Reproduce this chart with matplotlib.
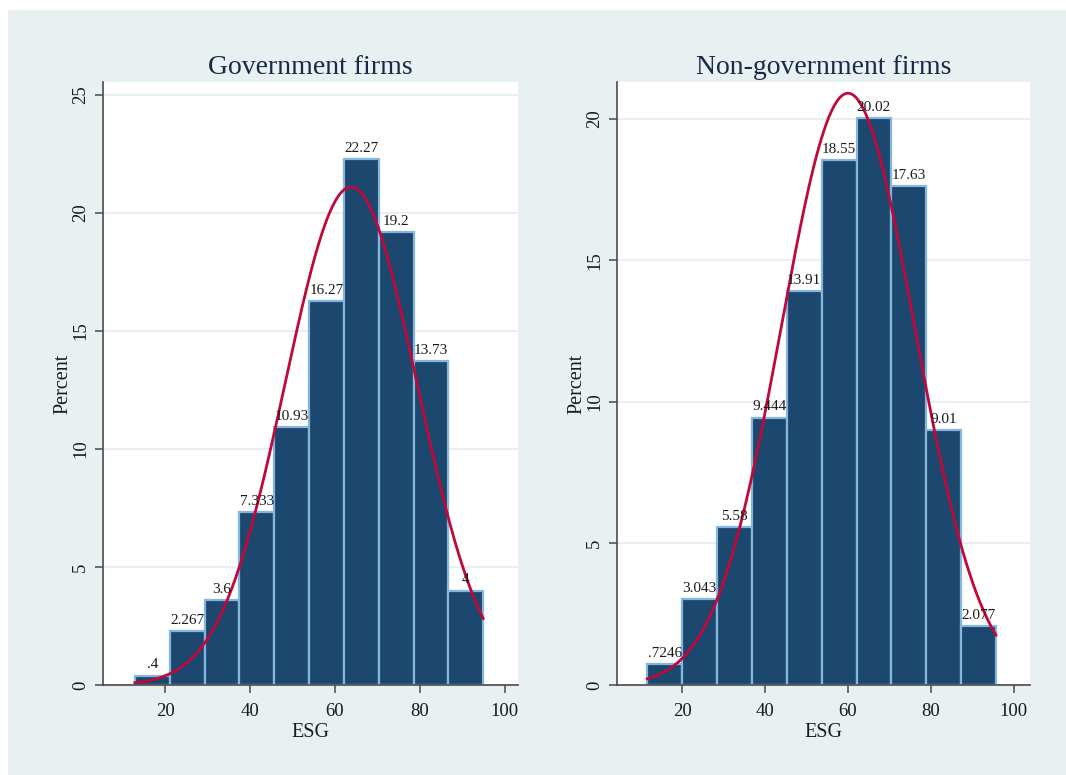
import numpy as np
import matplotlib
matplotlib.use("Agg")
import matplotlib.pyplot as plt
from matplotlib.patches import Rectangle

plt.rcParams["font.family"] = ["Liberation Serif", "DejaVu Serif"]

# Histogram data (percent per bin)
gov_title = "Government firms"
gov_start = 12.9
gov_width = 8.2
gov_pct = [0.4, 2.267, 3.6, 7.333, 10.93, 16.27, 22.27, 19.2, 13.73, 4]
gov_labels = [".4", "2.267", "3.6", "7.333", "10.93", "16.27", "22.27", "19.2", "13.73", "4"]
gov_mean, gov_sd = 63.8, 15.5
gov_yticks = [0, 5, 10, 15, 20, 25]

non_title = "Non-government firms"
non_start = 11.6
non_width = 8.41
non_pct = [0.7246, 3.043, 5.58, 9.444, 13.91, 18.55, 20.02, 17.63, 9.01, 2.077]
non_labels = [".7246", "3.043", "5.58", "9.444", "13.91", "18.55", "20.02", "17.63", "9.01", "2.077"]
non_mean, non_sd = 60.0, 16.05
non_yticks = [0, 5, 10, 15, 20]

xticks = [20, 40, 60, 80, 100]

BG = "#e8f0f2"
BAR = "#1c476f"
EDGE = "#85b6de"
CURVE = "#c0083a"
GRID = "#e3ecef"
AX = "#4a4a4a"

W, H = 1066, 775
fig = plt.figure(figsize=(W / 100, H / 100), dpi=100)
fig.patch.set_facecolor("white")
fig.patches.append(Rectangle((8 / W, 0), 1 - 8 / W, 1 - 10 / H,
                             transform=fig.transFigure, facecolor=BG,
                             edgecolor="none", zorder=-10))


def panel(rect, title, start, width, pct, labels, mean, sd, yticks, xlim, ylim):
    ax = fig.add_axes(rect)
    ax.set_facecolor("white")
    edges = start + width * np.arange(len(pct))
    ax.bar(edges, pct, width=width, align="edge", color=BAR,
           edgecolor=EDGE, linewidth=1.6, zorder=2)
    for x, v, t in zip(edges, pct, labels):
        ax.annotate(t, (x + width / 2, v), xytext=(0, 3),
                    textcoords="offset points", ha="center", va="bottom",
                    fontsize=11, color="#1a1a1a", zorder=4)
    # fitted normal density scaled to percent per bin
    xs = np.linspace(start, start + width * len(pct), 400)
    ys = 100 * width / (sd * np.sqrt(2 * np.pi)) * np.exp(-0.5 * ((xs - mean) / sd) ** 2)
    ax.plot(xs, ys, color=CURVE, lw=2, zorder=3)

    ax.set_xlim(*xlim)
    ax.set_ylim(*ylim)
    ax.set_xticks(xticks)
    ax.set_yticks(yticks)
    ax.yaxis.grid(True, color=GRID, lw=1.2, zorder=0)
    ax.set_axisbelow(True)
    for s in ("top", "right"):
        ax.spines[s].set_visible(False)
    for s in ("left", "bottom"):
        ax.spines[s].set_color(AX)
        ax.spines[s].set_linewidth(1.2)
    ax.tick_params(axis="both", direction="out", length=6, width=1.1,
                   color=AX, labelsize=13.5, labelcolor="#1a1a1a", pad=4)
    ax.tick_params(axis="x", pad=7)
    for lab in ax.get_yticklabels():
        lab.set_rotation(90)
        lab.set_va("center")
    ax.set_xlabel("ESG", fontsize=14.5, color="#1a1a1a", labelpad=2)
    ax.set_ylabel("Percent", fontsize=14.5, color="#1a1a1a", labelpad=0)
    ax.set_title(title, fontsize=20, color="#1a2a44", pad=6)
    return ax


bottom = (775 - 685) / H
height = (685 - 82) / H
panel([103 / W, bottom, 415 / W, height], gov_title, gov_start, gov_width,
      gov_pct, gov_labels, gov_mean, gov_sd, gov_yticks, (5.4, 103.1), (0, 25.55))
panel([617 / W, bottom, 413 / W, height], non_title, non_start, non_width,
      non_pct, non_labels, non_mean, non_sd, non_yticks, (4.3, 103.9), (0, 21.3))

fig.savefig("out.png", dpi=100, facecolor=fig.get_facecolor())
